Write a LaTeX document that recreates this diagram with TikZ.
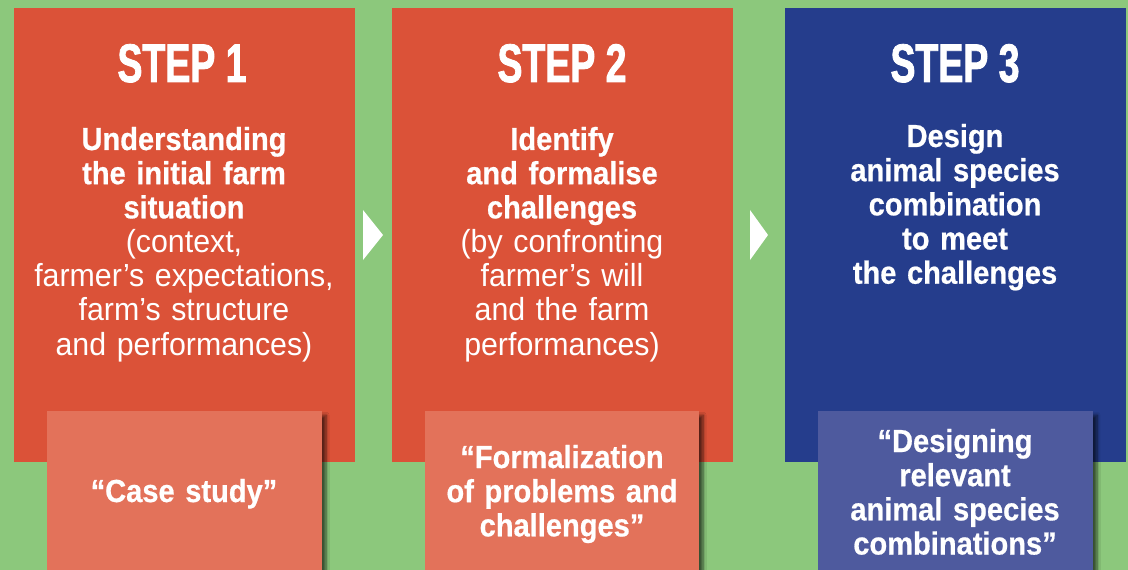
\documentclass[tikz,border=0pt]{standalone}
\usepackage{fontspec}
\setmainfont{Liberation Sans}
\newfontfamily\titlefont{Liberation Sans}[FakeStretch=0.69, FakeBold=1.5]
\newfontfamily\boldfont{Liberation Sans}[FakeStretch=0.91, FakeBold=0.6]
\newfontfamily\lightfont{Liberation Sans}[FakeStretch=0.95]
\usetikzlibrary{shadows.blur}
\definecolor{bggreen}{HTML}{8CC87C}
\definecolor{stepred}{HTML}{DB5238}
\definecolor{cardred}{HTML}{E3725A}
\definecolor{stepblue}{HTML}{253D8C}
\definecolor{cardblue}{HTML}{4E5A9E}
\tikzset{
  heading/.style={anchor=base, text=white, inner sep=0pt, font=\titlefont\bfseries\fontsize{38.6}{40}\selectfont},
  body/.style={anchor=base, text=white, align=center, text width=8.25cm, inner sep=0pt, font=\fontsize{22.7}{24.3}\selectfont},
  cardtext/.style={body, text width=6.5cm, font=\boldfont\bfseries\fontsize{22.7}{24.3}\selectfont},
  card/.style={blur shadow={shadow xshift=3pt, shadow yshift=-3pt, shadow blur steps=10, shadow opacity=60}}
}

\begin{document}
\begin{tikzpicture}[x=0.025cm, y=-0.025cm]
    \useasboundingbox (0,0) rectangle (1128,570);
    % Background
    \fill [bggreen] (0,0) rectangle (1128,570);
    % Steps
    \fill [stepred] (14,8) rectangle (355,462);
    \fill [stepred] (392,8) rectangle (733,462);
    \fill [stepblue] (785,8) rectangle (1126,462);
    % Arrows
    \fill [white] (363,210) -- (383,235) -- (363,260) -- cycle;
    \fill [white] (750,210) -- (768,235) -- (750,260) -- cycle;
    % Cards
    \fill [cardred, card] (47,411) rectangle (322,580);
    \fill [cardred, card] (425,411) rectangle (699,580);
    \fill [cardblue, card] (818,411) rectangle (1093,580);
    % Titles
    \node (title1) at (182,82) [heading] {STEP 1};
    \node (title2) at (562,82) [heading] {STEP 2};
    \node (title3) at (955,82) [heading] {STEP 3};
    % Texts
    \node (text1) at (184,150) [body] {\boldfont\bfseries Understanding\\ the initial farm\\ situation\\
      \lightfont\mdseries (context,\\ farmer’s expectations,\\ farm’s structure\\ and performances)};
    \node (text2) at (562,150) [body] {\boldfont\bfseries Identify\\ and formalise\\ challenges\\
      \lightfont\mdseries (by confronting\\ farmer’s will\\ and the farm\\ performances)};
    \node (text3) at (955,147) [body] {\boldfont\bfseries Design\\ animal species\\ combination\\ to meet\\ the challenges};
    % Card texts
    \node (case1) at (184,502) [cardtext] {“Case study”};
    \node (case2) at (562,468) [cardtext] {“Formalization\\ of problems and\\ challenges”};
    \node (case3) at (955,452) [cardtext] {“Designing\\ relevant\\ animal species\\ combinations”};
\end{tikzpicture}
\end{document}
